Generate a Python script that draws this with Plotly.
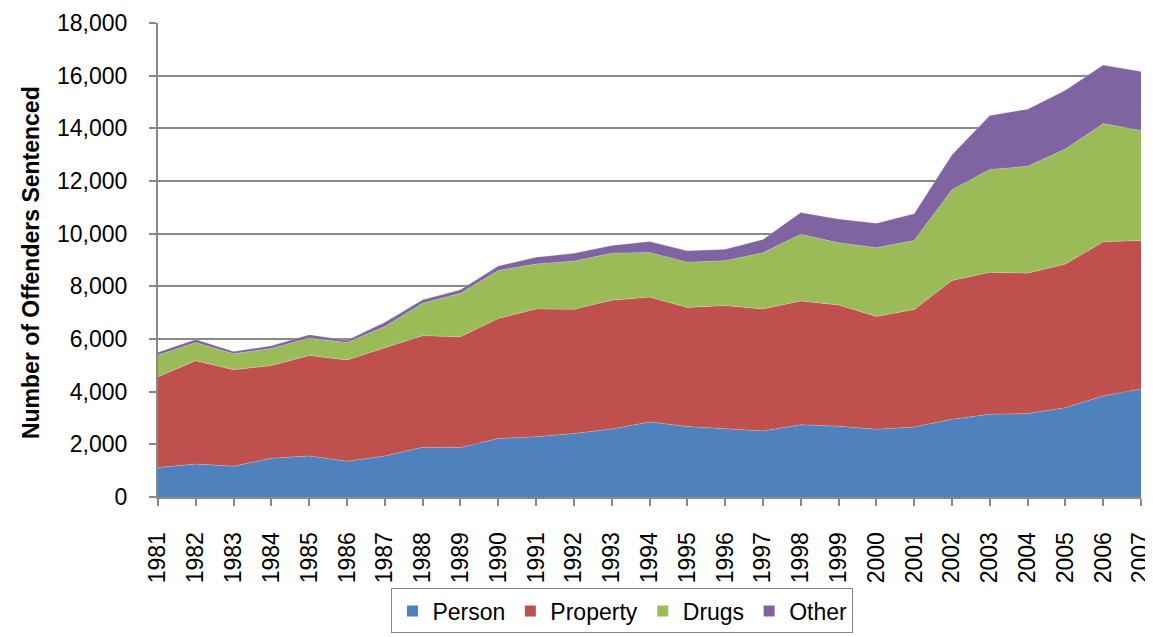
import plotly.graph_objects as go

years = list(range(1981, 2008))
person = [1120, 1250, 1170, 1470, 1560, 1360, 1560, 1890, 1880, 2220, 2290, 2410, 2580, 2850,
          2680, 2590, 2510, 2740, 2690, 2570, 2660, 2950, 3140, 3170, 3390, 3840, 4100]
prop = [3445, 3926, 3666, 3519, 3814, 3840, 4111, 4234, 4209, 4556, 4852, 4716, 4889, 4741,
        4519, 4678, 4630, 4704, 4604, 4289, 4464, 5271, 5394, 5331, 5454, 5851, 5643]
drugs = [829, 689, 604, 652, 667, 665, 803, 1237, 1644, 1827, 1703, 1829, 1790, 1693,
         1718, 1704, 2134, 2530, 2359, 2604, 2618, 3445, 3906, 4055, 4367, 4490, 4178]
other = [100, 120, 90, 100, 123, 90, 160, 134, 134, 170, 260, 297, 296, 419,
         431, 433, 507, 829, 900, 930, 1016, 1328, 2046, 2172, 2232, 2221, 2238]

names = ["Person", "Property", "Drugs", "Other"]
series = [person, prop, drugs, other]
colors = ["#4F81BD", "#C0504D", "#9BBB59", "#8064A2"]

fig = go.Figure()
for n, s, c in zip(names, series, colors):
    fig.add_trace(go.Scatter(x=years, y=s, name=n, stackgroup="one", mode="lines",
                             line=dict(width=0.6, color="rgba(255,255,255,0.35)"),
                             fillcolor=c, showlegend=False, hoverinfo="x+y+name"))
for n, c in zip(names, colors):
    fig.add_trace(go.Scatter(x=[None], y=[None], mode="markers", name=n,
                             marker=dict(symbol="square", size=11, color=c)))

grid = "#888888"
fig.update_layout(
    width=1153, height=637,
    margin=dict(l=150, r=20, t=15, b=137),
    paper_bgcolor="white", plot_bgcolor="white",
    font=dict(family="Liberation Sans, Arial, sans-serif", size=23, color="#000000"),
    xaxis=dict(range=[1981, 2007], tickvals=years, ticktext=[str(y) for y in years],
               tickangle=-90, showgrid=False, showline=True, linecolor=grid, linewidth=2,
               ticks="outside", ticklen=7, tickcolor=grid, tickwidth=1.5, zeroline=False,
               tickfont=dict(size=23), ticklabelstandoff=17, automargin=False),
    yaxis=dict(range=[0, 18000], dtick=2000, tickformat=",", showgrid=True,
               gridcolor=grid, gridwidth=1.5, showline=True, linecolor=grid, linewidth=2,
               ticks="outside", ticklen=7, tickcolor=grid, tickwidth=1.5, zeroline=False,
               tickfont=dict(size=23), ticklabelstandoff=17, automargin=False),
    legend=dict(orientation="h", x=0.4725, xanchor="center", y=-0.193, yanchor="top",
                bordercolor="#888888", borderwidth=1, font=dict(size=23),
                traceorder="normal", itemwidth=30, tracegroupgap=0),
    annotations=[dict(text="<b>Number of Offenders Sentenced</b>", textangle=-90,
                      xref="paper", yref="paper", x=-0.129, y=0.494, xanchor="center",
                      yanchor="middle", showarrow=False, font=dict(size=23))],
    showlegend=True,
)
fig.write_html("out.html")
